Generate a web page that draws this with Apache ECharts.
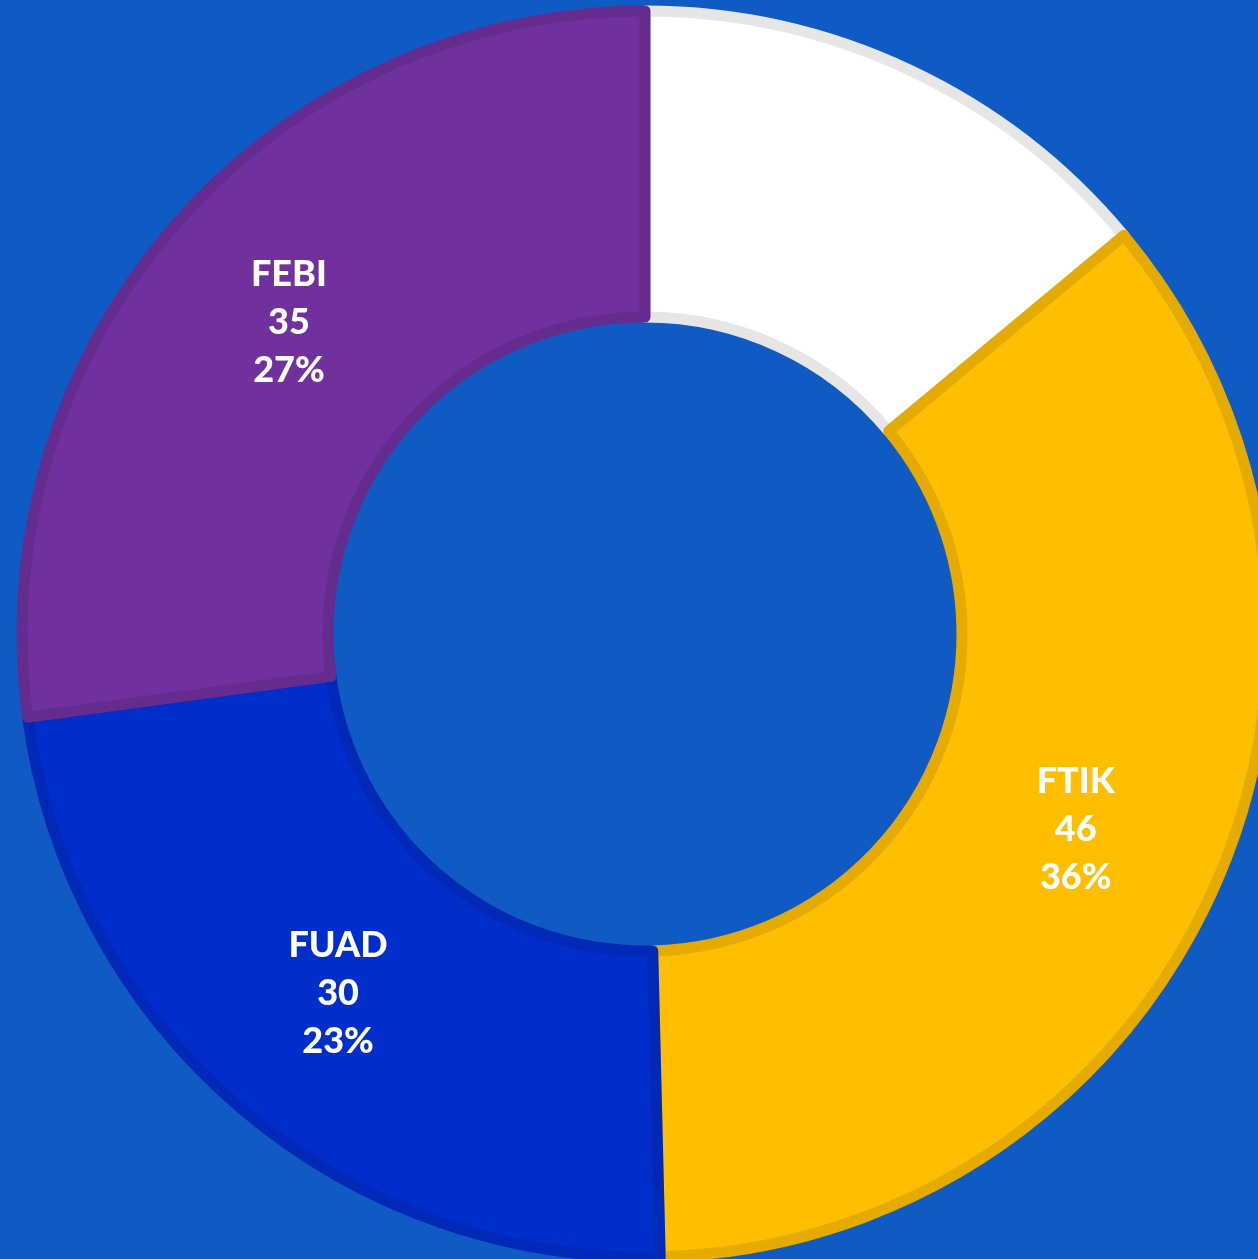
<!DOCTYPE html>
<html>
<head>
<meta charset="utf-8">
<script src="https://cdn.jsdelivr.net/npm/echarts@6/dist/echarts.min.js"></script>
<style>
  html, body { margin: 0; padding: 0; background: #105ac4; }
  #chart { width: 1258px; height: 1259px; }
</style>
</head>
<body>
<div id="chart"></div>
<script>
  // faculty names and counts, clockwise from the top
  var categories = ['', 'FTIK', 'FUAD', 'FEBI']
  var values = [18, 46, 30, 35]
  var colors = ['#ffffff', '#ffbe00', '#002ecb', '#70319f']
  var borders = ['#e6e6e6', '#e6ab00', '#0029b7', '#652c8f']

  var chart = echarts.init(document.getElementById('chart'))
  chart.setOption({
    backgroundColor: '#105ac4',
    animation: false,
    series: [
      {
        type: 'pie',
        center: [645, 634],
        radius: [317, 623],
        startAngle: 90,
        clockwise: true,
        percentPrecision: 0,
        avoidLabelOverlap: false,
        label: {
          show: true,
          position: 'inside',
          formatter: '{b}\n{c}\n{d}%',
          color: '#ffffff',
          fontFamily: 'Lato',
          fontWeight: 900,
          fontSize: 36,
          lineHeight: 48
        },
        labelLine: { show: false },
        data: values.map(function (v, i) {
          return {
            name: categories[i],
            value: v,
            itemStyle: {
              color: colors[i],
              borderColor: borders[i],
              borderWidth: 11
            }
          }
        })
      }
    ]
  })
</script>
</body>
</html>
